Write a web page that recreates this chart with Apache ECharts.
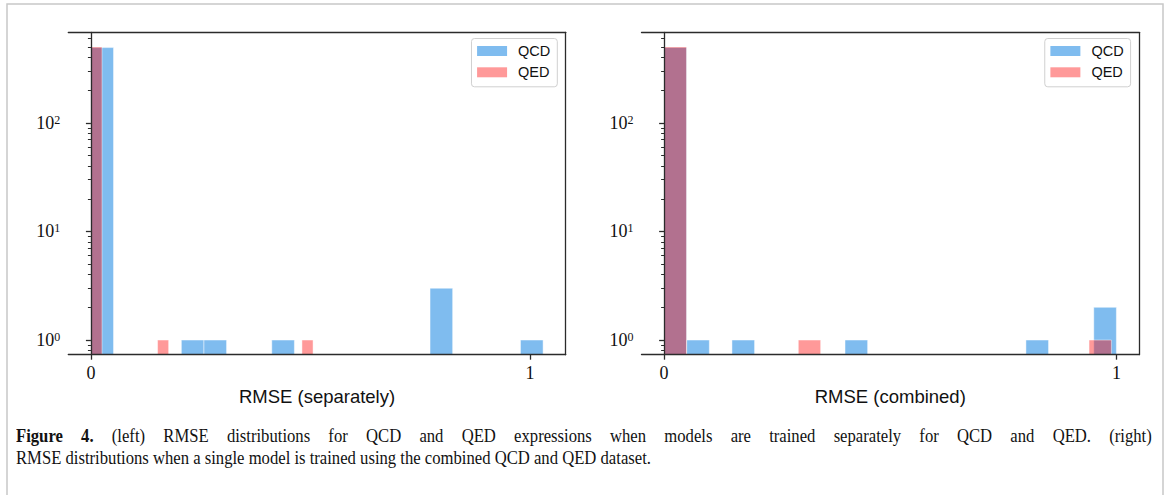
<!DOCTYPE html>
<html>
<head>
<meta charset="utf-8">
<script src="https://cdn.jsdelivr.net/npm/echarts@6/dist/echarts.min.js"></script>
<style>
  html, body { margin: 0; padding: 0; background: #fff; }
  #wrap { position: relative; width: 1170px; height: 495px; overflow: hidden; }
  #chart { position: absolute; left: 0; top: 0; width: 1170px; height: 495px; }
  #caption { position: absolute; left: 16px; top: 426px; transform: scaleX(0.9); transform-origin: 0 0;
             font-family: 'Liberation Serif', 'Times New Roman', serif; font-size: 18.5px; line-height: 21.5px; color: #111; }
  #cap1 { width: 1262px; text-align: justify; text-align-last: justify; white-space: normal; }
  #cap2 { white-space: nowrap; }
</style>
</head>
<body>
<div id="wrap">
  <div id="chart"></div>
  <div id="caption">
    <div id="cap1"><b>Figure 4.</b> (left) RMSE distributions for QCD and QED expressions when models are trained separately for QCD and QED. (right)</div>
    <div id="cap2">RMSE distributions when a single model is trained using the combined QCD and QED dataset.</div>
  </div>
</div>
<script>
// ---------------- data ----------------
const seriesNames = ['QCD', 'QED'];
const panelNames = ['RMSE (separately)', 'RMSE (combined)'];

// left panel: models trained separately (20 bins each)
const sepQCDRange = [0, 1.03];
const sepQCDCounts = [493, 0, 0, 0, 1, 1, 0, 0, 1, 0, 0, 0, 0, 0, 0, 3, 0, 0, 0, 1];
const sepQEDRange = [0, 0.506];
const sepQEDCounts = [500, 0, 0, 0, 0, 0, 1, 0, 0, 0, 0, 0, 0, 0, 0, 0, 0, 0, 0, 1];

// right panel: single model trained on combined data (20 bins each)
const comQCDRange = [0, 1.0];
const comQCDCounts = [494, 1, 0, 1, 0, 0, 0, 0, 1, 0, 0, 0, 0, 0, 0, 0, 1, 0, 0, 2];
const comQEDRange = [0, 0.989];
const comQEDCounts = [500, 0, 0, 0, 0, 0, 1, 0, 0, 0, 0, 0, 0, 0, 0, 0, 0, 0, 0, 1];

const xTickValues = [0, 1];
const yMajorTicks = [1, 10, 100];
const yMinorTicks = [0.8, 0.9, 2, 3, 4, 5, 6, 7, 8, 9, 20, 30, 40, 50, 60, 70, 80, 90, 200, 300, 400, 500, 600];

// axis extents (matplotlib 5% margins)
const xExtents = [[-0.0515, 1.0815], [-0.05, 1.05]];
const yExtent = [0.733, 682];

// ---------------- helpers ----------------
function toBins(range, counts) {
  const w = (range[1] - range[0]) / counts.length;
  const out = [];
  counts.forEach((c, i) => { if (c > 0) out.push([range[0] + i * w, range[0] + (i + 1) * w, c]); });
  return out;
}

const BLUE = '#7fbcef';
const RED = 'rgba(255,0,0,0.4)';
const SPINE = { color: '#2b2b2b', width: 1.3 };
const SERIF = "'Liberation Serif', 'Times New Roman', serif";
const SANS = "'Liberation Sans', Arial, sans-serif";

function renderBar(params, api) {
  const x0 = api.value(0), x1 = api.value(1), c = api.value(2);
  const pTop = api.coord([x0, c]);
  const pBot = api.coord([x1, yExtent[0]]);
  return {
    type: 'rect',
    shape: { x: pTop[0], y: pTop[1], width: pBot[0] - pTop[0], height: pBot[1] - pTop[1] },
    style: { fill: api.visual('color'), stroke: 'rgba(255,255,255,0.45)', lineWidth: 1 }
  };
}

const grids = [
  { left: 68.3, top: 32.3, width: 497.4, height: 322.4 },
  { left: 641.5, top: 32.3, width: 497.5, height: 322.4 }
];

const xAxes = [], yAxes = [], series = [];
const panelData = [
  [toBins(sepQCDRange, sepQCDCounts), toBins(sepQEDRange, sepQEDCounts)],
  [toBins(comQCDRange, comQCDCounts), toBins(comQEDRange, comQEDCounts)]
];

grids.forEach((g, gi) => {
  const [xmin, xmax] = xExtents[gi];
  xAxes.push({
    type: 'value', gridIndex: gi, position: 'bottom', min: xmin, max: xmax, z: 10,
    axisLine: { show: true, onZero: false, lineStyle: SPINE },
    axisTick: { show: true, length: 5, customValues: xTickValues, lineStyle: SPINE },
    axisLabel: { customValues: xTickValues, margin: 9, fontFamily: SERIF, fontSize: 18, color: '#111' },
    splitLine: { show: false },
    name: panelNames[gi], nameLocation: 'middle', nameGap: 30,
    nameTextStyle: { fontFamily: SANS, fontSize: 18.5, color: '#111' }
  });
  xAxes.push({
    type: 'value', gridIndex: gi, position: 'top', min: xmin, max: xmax, z: 10,
    axisLine: { show: true, onZero: false, lineStyle: SPINE },
    axisTick: { show: false }, axisLabel: { show: false }, splitLine: { show: false }
  });
  yAxes.push({
    type: 'log', logBase: 10, gridIndex: gi, position: 'left', min: yExtent[0], max: yExtent[1], z: 10,
    axisLine: { show: true, lineStyle: SPINE },
    axisTick: { show: true, length: 5, customValues: yMajorTicks, lineStyle: SPINE },
    axisLabel: {
      customValues: yMajorTicks, margin: 8,
      formatter: v => '{b|10}{s|' + Math.round(Math.log10(v)) + '}',
      rich: {
        b: { fontFamily: SERIF, fontSize: 18, lineHeight: 18, color: '#111' },
        s: { fontFamily: SERIF, fontSize: 12, lineHeight: 12, color: '#111', verticalAlign: 'top' }
      }
    },
    splitLine: { show: false }, minorTick: { show: false }
  });
  yAxes.push({
    type: 'log', logBase: 10, gridIndex: gi, position: 'left', min: yExtent[0], max: yExtent[1], z: 10,
    axisLine: { show: false },
    axisTick: { show: true, length: 3, customValues: yMinorTicks, lineStyle: { color: '#2b2b2b', width: 1 } },
    axisLabel: { show: false }, splitLine: { show: false }
  });
  yAxes.push({
    type: 'log', logBase: 10, gridIndex: gi, position: 'right', min: yExtent[0], max: yExtent[1], z: 10,
    axisLine: { show: true, lineStyle: SPINE },
    axisTick: { show: false }, axisLabel: { show: false }, splitLine: { show: false }
  });

  seriesNames.forEach((name, si) => {
    series.push({
      type: 'custom', name: name,
      xAxisIndex: gi * 2, yAxisIndex: gi * 3,
      itemStyle: { color: si === 0 ? BLUE : RED },
      renderItem: renderBar,
      encode: { x: [0, 1], y: 2 },
      data: panelData[gi][si],
      clip: true, z: 2 + si, silent: true
    });
  });
});

const legendBase = {
  orient: 'vertical', top: 38.5, icon: 'rect', itemWidth: 30, itemHeight: 10, itemGap: 6.3,
  padding: [5, 7, 7, 5.6], borderColor: '#d0d0d0', borderWidth: 1, borderRadius: 3,
  backgroundColor: '#fff', selectedMode: false, data: seriesNames,
  textStyle: { fontFamily: SANS, fontSize: 14.5, lineHeight: 14, color: '#111', padding: [0, 0, 0, 6] }
};

const chart = echarts.init(document.getElementById('chart'), null, { renderer: 'svg' });
chart.setOption({
  animation: false,
  backgroundColor: '#fff',
  grid: grids.map(g => Object.assign({ outerBoundsMode: 'none', containLabel: false }, g)),
  xAxis: xAxes,
  yAxis: yAxes,
  legend: [
    Object.assign({ right: 612.7 }, legendBase),
    Object.assign({ right: 39.4 }, legendBase)
  ],
  graphic: [{
    type: 'rect', silent: true, z: -10,
    shape: { x: 7, y: 4, width: 1156, height: 520 },
    style: { fill: 'none', stroke: '#c8c8c8', lineWidth: 1.5 }
  }],
  series: series
});
</script>
</body>
</html>
